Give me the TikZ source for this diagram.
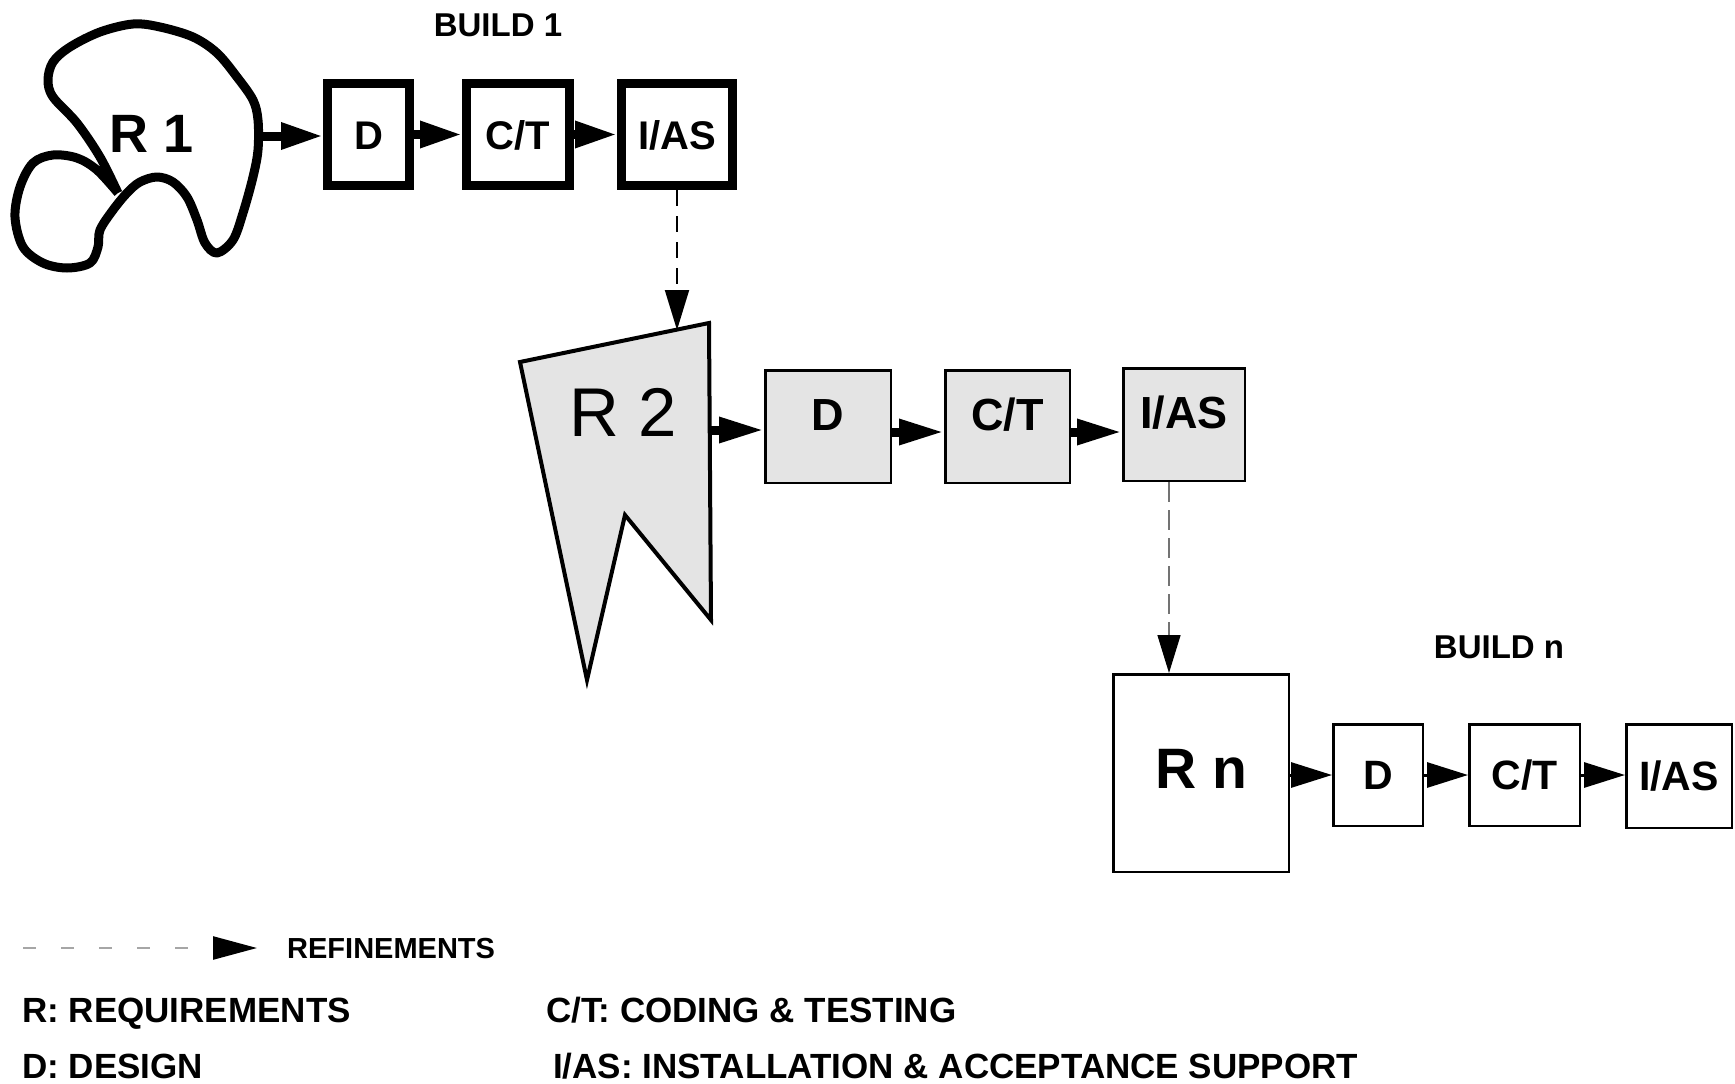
\documentclass[tikz,border=0pt]{standalone}
\usepackage{fontspec}
\setmainfont{Liberation Sans}
\usetikzlibrary{arrows.meta}
\definecolor{boxgray}{HTML}{E4E4E4}
\begin{document}
\begin{tikzpicture}[x=1pt,y=-1pt,
  every node/.style={inner sep=0pt},
  boxone/.style={draw, line width=9pt, minimum height=102pt, font=\fontsize{40}{40}\selectfont\bfseries, text height=29pt, text depth=0pt},
  boxtwo/.style={draw, fill=boxgray, line width=2.5pt, minimum height=112.5pt, font=\fontsize{45}{45}\selectfont\bfseries, text height=8pt, text depth=0pt},
  boxthree/.style={draw, line width=2.5pt, minimum height=101.5pt, font=\fontsize{41}{41}\selectfont\bfseries, text height=29pt, text depth=0pt},
  flowone/.style={line width=9pt, -{Triangle[length=42pt, width=25pt]}},
  flowtwo/.style={line width=9pt, -{Triangle[length=45pt, width=24pt]}},
  flowthree/.style={line width=3pt, -{Triangle[length=41pt, width=25pt]}},
  refine/.style={line width=2pt, dash pattern=on 16pt off 10pt, -{Triangle[length=40pt, width=24pt]}},
  refinegray/.style={draw=black!55, line width=1.5pt, dash pattern=on 20pt off 8pt, -{Triangle[length=38pt, width=23pt, color=black]}},
  title/.style={font=\fontsize{33}{33}\selectfont\bfseries, anchor=base},
  legend/.style={font=\fontsize{35}{35}\selectfont\bfseries, anchor=base west}
]
\useasboundingbox (0,0) rectangle (1735,1084);

% ---------- BUILD 1 ----------
\node[title] (b1title) at (498,36) {BUILD 1};
\draw[line width=9pt, line join=round]
  plot[smooth, tension=0.55] coordinates {(118,193) (100,157) (77,123) (53,97) (48,80) (53,62) (70,47) (100,32) (133,24) (160,27) (193,37) (217,53) (237,77) (253,100) (258,120) (258,150) (253,177) (243,213) (233,240) (217,253) (205,243) (197,220) (187,197) (173,182) (157,177) (140,182) (127,193) (113,210) (100,230) (98,247) (90,263) (67,268) (43,263) (23,247) (15,217) (20,187) (33,163) (53,155) (77,158) (97,170) (118,193)};
\node[font=\fontsize{54}{54}\selectfont\bfseries, anchor=base] (r1) at (152,152) {R 1};
\coordinate (r1out) at (262,136);

\node[boxone, minimum width=82pt]  (d1)   at (368.5,134.5) {D};
\node[boxone, minimum width=103pt] (ct1)  at (518,134.5) {C/T};
\node[boxone, minimum width=111pt] (ias1) at (677,134.5) {I/AS};

\draw[flowone] (r1out) -- (d1.west |- r1out);
\draw[flowone] (d1.east) -- (ct1.west);
\draw[flowone] (ct1.east) -- (ias1.west);

% ---------- BUILD 2 ----------
\draw[fill=boxgray, line width=4pt, line join=miter]
  (520,362) -- (709,323) -- (711,620) -- (625,515) -- (587,680) -- cycle;
\node[font=\fontsize{69}{69}\selectfont, anchor=base] (r2) at (623,436) {R 2};
\coordinate (r2top) at (677,330);
\coordinate (r2out) at (711,430);

\node[boxtwo, minimum width=125.5pt] (d2)   at (828,426.5) {D};
\node[boxtwo, minimum width=124.5pt] (ct2)  at (1007.5,426.5) {C/T};
\node[boxtwo, minimum width=121.5pt] (ias2) at (1184,424.5) {I/AS};

\draw[refine] (ias1.south) -- (r2top);
\draw[flowtwo] (r2out) -- (d2.west |- r2out);
\draw[flowtwo] (d2.east |- 0,432) -- (ct2.west |- 0,432);
\draw[flowtwo] (ct2.east |- 0,432) -- (ias2.west |- 0,432);

% ---------- BUILD n ----------
\node[title] (bntitle) at (1499,658) {BUILD n};
\node[draw, line width=2.5pt, minimum width=175.5pt, minimum height=197.5pt,
      font=\fontsize{57}{57}\selectfont\bfseries, text height=31pt, text depth=0pt] (rn) at (1201,773) {R n};

\node[boxthree, minimum width=89.5pt]  (d3)   at (1378,775) {D};
\node[boxthree, minimum width=110.5pt] (ct3)  at (1524.5,775) {C/T};
\node[boxthree, minimum width=105.5pt, minimum height=103.5pt] (ias3) at (1679,776) {I/AS};

\draw[refinegray] ([xshift=-15pt]ias2.south) -- ([xshift=-15pt]ias2.south |- rn.north);
\draw[flowthree] (rn.east |- 0,775) -- (d3.west);
\draw[flowthree] (d3.east) -- (ct3.west |- d3.east);
\draw[flowthree] (ct3.east) -- (ias3.west |- ct3.east);

% ---------- LEGEND ----------
\coordinate (lega) at (23,948);
\coordinate (legb) at (257,948);
\draw[draw=black!35, line width=2.5pt, dash pattern=on 13pt off 25pt, -{Triangle[length=44pt, width=23pt, color=black]}] (lega) -- (legb);
\node[legend, font=\fontsize{29}{29}\selectfont\bfseries] (lrefine) at (287,958) {REFINEMENTS};
\node[legend] (lr)  at (22,1022) {R: REQUIREMENTS};
\node[legend] (ld)  at (22,1078) {D: DESIGN};
\node[legend] (lct) at (546,1022) {C/T: CODING \& TESTING};
\node[legend] (lias) at (553,1078) {I/AS: INSTALLATION \& ACCEPTANCE SUPPORT};
\end{tikzpicture}
\end{document}
